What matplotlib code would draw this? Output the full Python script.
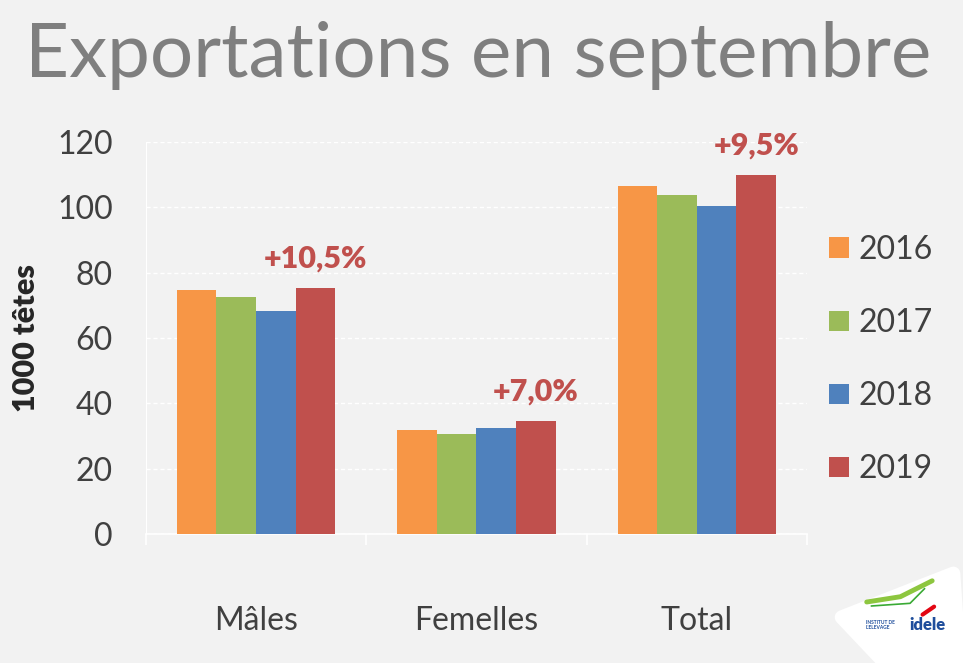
"""
Exportations en septembre - bar chart by category and year.
Output: out.png
"""
import matplotlib.pyplot as plt
import matplotlib.patches as mpatches
import numpy as np

# ── Data ──────────────────────────────────────────────────────────────────
categories = ["Mâles", "Femelles", "Total"]
years = ["2016", "2017", "2018", "2019"]
v2016 = [74.6, 31.8, 106.5]
v2017 = [72.5, 30.7, 103.7]
v2018 = [68.2, 32.4, 100.5]
v2019 = [75.4, 34.7, 110.0]
changes = ["+10,5%", "+7,0%", "+9,5%"]
yticks = [0, 20, 40, 60, 80, 100, 120]

COLORS = ["#f79646", "#9bbb59", "#4f81bd", "#c0504d"]
BG = "#f2f2f2"
FONT = ["Lato", "DejaVu Sans"]

plt.rcParams["font.family"] = FONT

fig = plt.figure(figsize=(9.63, 6.63), dpi=100, facecolor=BG)
ax = fig.add_axes([0.1516, 0.1946, 0.6864, 0.5913], facecolor=BG)

x = np.arange(len(categories))
width = 0.18
series = [v2016, v2017, v2018, v2019]
for i, (vals, col, yr) in enumerate(zip(series, COLORS, years)):
    ax.bar(x + (i - 1.5) * width, vals, width, color=col, label=yr, zorder=3)

# percent change above the 2019 bar
for xi, val, txt in zip(x, v2019, changes):
    ax.annotate(txt, (xi + 1.5 * width, val), xytext=(0, 21),
                textcoords="offset points", ha="center", va="center",
                fontsize=22, fontweight="heavy", color="#c0504d")

ax.set_xlim(-0.5, 2.5)
ax.set_ylim(0, 120)
ax.set_yticks(yticks)
ax.grid(True, axis="y", color="white", linestyle=(0, (3, 2)), linewidth=1, zorder=0)

for s in ["top", "right"]:
    ax.spines[s].set_visible(False)
ax.spines["bottom"].set_color("white")
ax.spines["bottom"].set_linewidth(1.2)
ax.spines["left"].set_color("white")
ax.spines["left"].set_linewidth(0.8)

ax.tick_params(axis="y", length=0, pad=24, labelsize=23, labelcolor="#404040")
ax.set_xticks(x)
ax.set_xticklabels(categories)
ax.tick_params(axis="x", which="major", length=0, pad=52, labelsize=23, labelcolor="#404040")
ax.set_xticks([-0.5, 0.5, 1.5, 2.5], minor=True)
ax.tick_params(axis="x", which="minor", length=8, color="white", width=1.2)

ax.set_ylabel("1000 têtes", fontsize=22, fontweight="heavy", color="#262626", labelpad=12)

fig.text(0.497, 0.917, "Exportations en septembre", ha="center", va="center",
         fontsize=55, color="#7f7f7f")

leg = ax.legend(loc="upper left", bbox_to_anchor=(0.848, 0.665), bbox_transform=fig.transFigure,
                frameon=False, fontsize=23, handlelength=0.6, handleheight=0.6,
                handletextpad=0.3, labelspacing=1.35, borderaxespad=0)
for t in leg.get_texts():
    t.set_color("#404040")

# ── idele logo (rough) ────────────────────────────────────────────────────
logo = mpatches.Polygon([(0.874, 0.069), (0.99, 0.135), (0.996, 0.008), (0.915, 0.006)],
                        closed=True, transform=fig.transFigure, facecolor="white",
                        edgecolor="white", linewidth=10, joinstyle="round")
fig.add_artist(logo)
fig.add_artist(plt.Line2D([0.9, 0.935, 0.968], [0.092, 0.1, 0.124],
                          transform=fig.transFigure, color="#8dc63f", linewidth=3.5,
                          solid_capstyle="round"))
fig.add_artist(plt.Line2D([0.905, 0.945, 0.96], [0.086, 0.09, 0.112],
                          transform=fig.transFigure, color="#3aaa35", linewidth=1.2))
fig.add_artist(plt.Line2D([0.958, 0.97], [0.073, 0.085], transform=fig.transFigure,
                          color="#e30613", linewidth=3, solid_capstyle="round"))
fig.text(0.899, 0.058, "INSTITUT DE\nL'ELEVAGE", fontsize=3.5, fontweight="bold",
         color="#1f4e9c", ha="left", va="center", linespacing=1.0)
fig.text(0.944, 0.058, "idele", fontsize=12, fontweight="heavy", color="#1f4e9c",
         ha="left", va="center")

fig.savefig("out.png", dpi=100, facecolor=BG)
